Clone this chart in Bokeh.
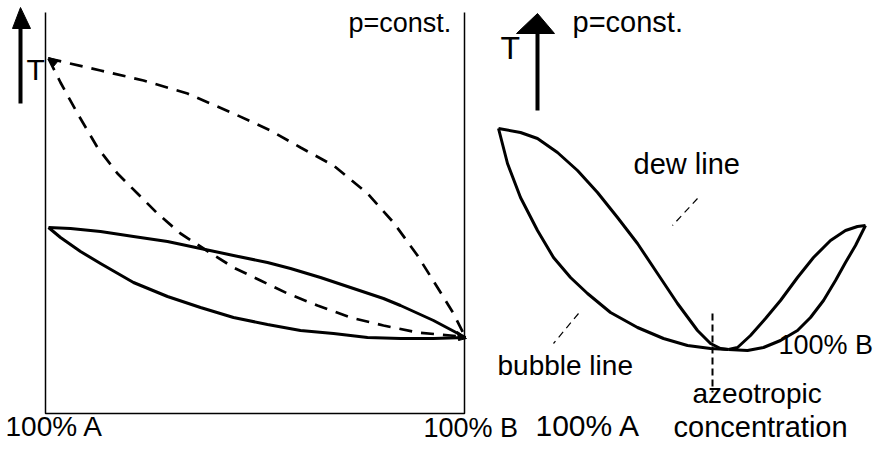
from bokeh.plotting import figure
from bokeh.models import Range1d
from bokeh.core.properties import value
from bokeh.embed import file_html
from bokeh.resources import INLINE

# Diagram coordinates (horizontal = concentration position, vertical = temperature position, drawn top-down)
# Left panel: zeotropic mixture, two pressures
left_frame_x = [45, 45, 464, 464]
left_frame_y = [12, 413, 413, 12]

upper_dashed_x = [48, 100, 143, 187, 233, 270, 300, 333, 367, 393, 417, 437, 453, 465]
upper_dashed_T = [58, 70, 80, 93, 113, 130, 147, 165, 193, 222, 255, 287, 313, 337]

lower_dashed_x = [48, 60, 77, 97, 117, 137, 157, 180, 203, 233, 260, 287, 317, 350, 383, 417, 450, 465]
lower_dashed_T = [58, 82, 113, 147, 173, 193, 213, 233, 248, 267, 280, 293, 305, 317, 325, 332, 335, 337]

upper_solid_x = [48, 70, 100, 133, 167, 200, 233, 267, 290, 320, 350, 383, 400, 433, 465]
upper_solid_T = [227, 228, 231, 236, 241, 248, 255, 262, 268, 277, 287, 298, 305, 320, 337]

lower_solid_x = [48, 60, 80, 100, 133, 167, 200, 233, 267, 300, 333, 367, 400, 433, 465]
lower_solid_T = [227, 237, 251, 263, 282, 296, 307, 317, 324, 330, 333, 337, 338, 338, 337]

# small arrow tips at the ends of the dashed curves
tip_x = [[48, 58, 53], [457, 466, 458]]
tip_y = [[57, 60, 66], [331, 338, 340]]

# Right panel: azeotropic mixture
dew_left_x = [498, 520, 537, 557, 577, 597, 617, 637, 657, 677, 697, 710, 720, 728]
dew_left_T = [128, 132, 138, 152, 170, 192, 217, 243, 273, 303, 330, 343, 348, 349]

bubble_left_x = [498, 507, 520, 537, 553, 570, 587, 610, 637, 663, 687, 710, 728]
bubble_left_T = [128, 163, 197, 230, 257, 277, 293, 312, 327, 338, 345, 348, 349]

dew_right_x = [728, 737, 750, 765, 780, 797, 813, 830, 845, 857, 865]
dew_right_T = [349, 347, 335, 318, 300, 277, 257, 240, 230, 226, 225]

bubble_right_x = [728, 747, 763, 780, 797, 810, 823, 835, 845, 855, 865]
bubble_right_T = [349, 350, 347, 340, 330, 317, 300, 280, 262, 245, 225]

azeo_x = [712, 712]
azeo_T = [313, 392]

dew_leader_x = [697, 672]
dew_leader_T = [198, 225]
bubble_leader_x = [578, 553]
bubble_leader_T = [313, 343]

# T arrows (shaft and head)
arrow_shaft_x = [[20, 20], [537, 537]]
arrow_shaft_y = [[103, 26], [110, 31]]
arrow_head_x = [[12, 30, 20], [516, 554, 537]]
arrow_head_y = [[28, 28, 7], [33, 33, 13]]

# Labels
label_text = ["T", "p=const.", "100% A", "100% B",
              "T", "p=const.", "dew line", "bubble line", "azeotropic",
              "concentration", "100% A", "100% B"]
label_x = [26, 348, 5, 423, 500, 572, 633, 497, 692, 673, 535, 778]
label_y = [69, 22, 426, 427, 47, 21, 163, 365, 393, 426, 425, 344]
label_size = ["30px", "27px", "28px", "27px", "32px", "29px", "29px", "28px",
              "28px", "29px", "30px", "27px"]

p = figure(width=878, height=444, output_backend="svg", toolbar_location=None,
           x_range=Range1d(0, 878), y_range=Range1d(444, 0),
           min_border=0, outline_line_color=None, tools="")
p.axis.visible = False
p.grid.visible = False
p.background_fill_color = "white"
p.border_fill_color = "white"

# left frame
p.line(left_frame_x, left_frame_y, line_color="black", line_width=1.5)

# left curves
p.line(upper_dashed_x, upper_dashed_T, line_color="black", line_width=2.7, line_dash="13 9")
p.line(lower_dashed_x, lower_dashed_T, line_color="black", line_width=2.7, line_dash="13 9")
p.line(upper_solid_x, upper_solid_T, line_color="black", line_width=3, line_join="round")
p.line(lower_solid_x, lower_solid_T, line_color="black", line_width=3, line_join="round")
p.patches(tip_x, tip_y, fill_color="black", line_color="black", line_width=1)

# right curves
for xs, ys in [(dew_left_x, dew_left_T), (bubble_left_x, bubble_left_T),
               (dew_right_x, dew_right_T), (bubble_right_x, bubble_right_T)]:
    p.line(xs, ys, line_color="black", line_width=3, line_join="round")

p.line(azeo_x, azeo_T, line_color="black", line_width=2, line_dash="7 4")
p.line(dew_leader_x, dew_leader_T, line_color="black", line_width=1.2, line_dash="7 5")
p.line(bubble_leader_x, bubble_leader_T, line_color="black", line_width=1.2, line_dash="7 5")

# arrows
p.multi_line(arrow_shaft_x, arrow_shaft_y, line_color="black", line_width=4)
p.patches(arrow_head_x, arrow_head_y, fill_color="black", line_color="black")

p.text(x=label_x, y=label_y, text=label_text, text_font=value("Liberation Sans"),
       text_font_size=label_size, text_baseline="alphabetic", text_align="left",
       text_color="black")

open("out.html", "w").write(file_html(p, INLINE))
